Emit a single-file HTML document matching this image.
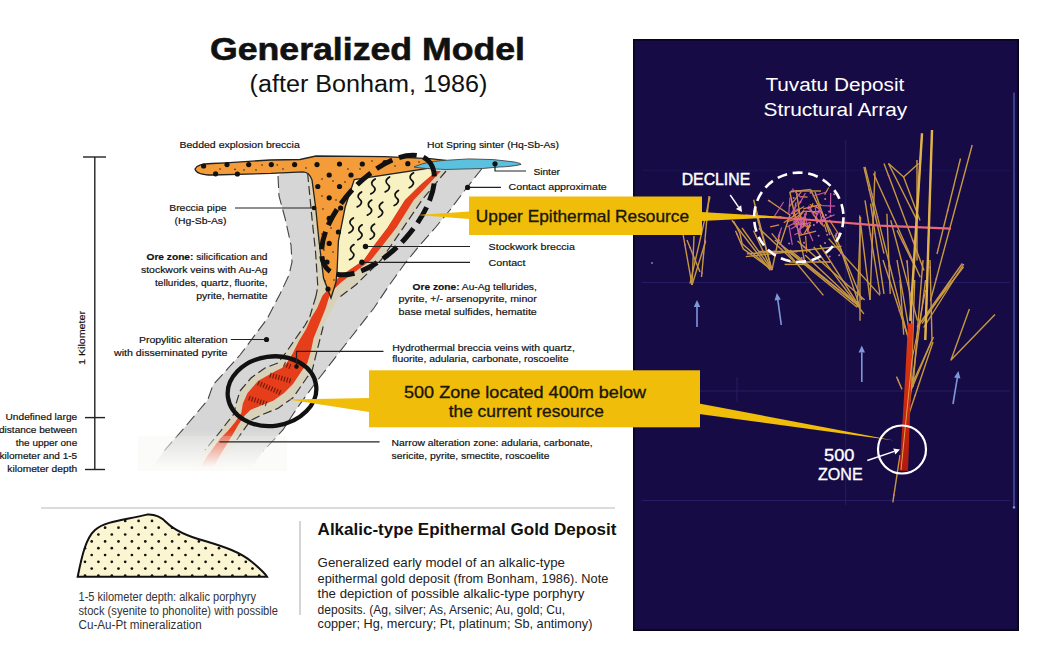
<!DOCTYPE html>
<html><head><meta charset="utf-8">
<style>
html,body{margin:0;padding:0;background:#fff;width:1064px;height:658px;overflow:hidden}
svg{display:block}
text{font-family:"Liberation Sans",sans-serif}
</style></head><body>
<svg width="1064" height="658" viewBox="0 0 1064 658">
<defs>
<linearGradient id="fade" x1="0" y1="0" x2="0" y2="1">
<stop offset="0" stop-color="#fff" stop-opacity="0"/>
<stop offset="0.85" stop-color="#fff" stop-opacity="1"/>
<stop offset="1" stop-color="#fff" stop-opacity="1"/>
</linearGradient>
</defs>
<rect x="0" y="0" width="1064" height="658" fill="#fff"/>

<text x="210" y="59.6" font-size="32" font-weight="bold" fill="#111" stroke="#111" stroke-width="0.6" textLength="315" lengthAdjust="spacingAndGlyphs">Generalized Model</text>
<text x="249.5" y="91.5" font-size="23.5" fill="#111" textLength="238" lengthAdjust="spacingAndGlyphs">(after Bonham, 1986)</text>
<path d="M150,470 L164,451 L185,427 L207.7,400 L213,385 L240,355 L267,319 L280,294 L289,275 L292,262 L291,245 L285,218 L279,196 L278,176 L283,171.8 L443,170 L482,168.5 L465,190 L450,210 L435,228 L420,245 L404.5,264 L388.7,286 L374,308 L345,345 L313.7,385.3 L296.4,409 L282.9,430 L263.3,451 L250,470 Z" fill="#d6d6d6"/>
<path d="M307.6,173 L312,218.4 L315.6,252.5 L317.8,286.7 L316,296 L309.8,316.7 L305,325.3 L296,338 L285.5,353.2 L278,363 L265,368 L251,378 L240,391 L236,403.8 L234,414 L226,424 L220,432 L205,450 L193,470 L218,470 L224,460 L236.7,440 L242.8,431.2 L250.4,420.5 L262.6,414.5 L277.8,408.4 L293,397.8 L306.6,378 L312.3,370 L317,350.8 L323.2,326.5 L337.8,298.5 L356,284.7 L381,260 L391,245.6 L403.5,227.4 L422,200 L446,171 Z" fill="#d9d2bb"/>
<path d="M433,171 L420,185 L404.7,200 L387.4,227.4 L373.7,245.6 L363.6,260 L339,277 L322.4,295.8 L317.1,308.2 L311,318 L306.2,328.9 L298.9,341 L292.8,353.2 L286.7,363 L281.9,368 L274.7,371.5 L258,381 L247.4,393.2 L242.8,403.8 L241.3,413 L235.2,422 L227.6,431.2 L220,438.8 L208,455 L198,470 L212,470 L222,452 L232,435.7 L238.2,425 L244.3,416 L250.4,410 L261,405.4 L273.2,400.8 L283.8,393.2 L293,384 L302,370.4 L307.4,363 L311,350.8 L313.5,338.6 L320.8,320.4 L325.7,308.2 L330.5,292.4 L341.5,282 L371,260 L381,247.4 L396.5,227.4 L413.8,200 L427,186 L441,171 Z" fill="#e63d1b"/>
<path d="M354.3,179.6 L434,169 L436,171.5 L420,185 L404.7,200 L387.4,227.4 L373.7,245.6 L363.6,260 L340,276 L337.2,268.5 L338.4,241 L345.2,207 Z" fill="#f8f2c2"/>
<path d="M195,169 C197,165 202,164 212,163.5 L226,162.8 L270,160 L300,159.5 L316,156 L384,156.6 L430,158.6 L445.4,160.3 C447,162 446,164 440,166 L429.5,168.2 L354.3,179.6 L345.2,207 L338.4,241 L337.2,268.5 L336,282 L331,298 L323.5,278 L319,241 L315.6,207 L312,180 C310,174 307,172 303,171.8 L271,173.4 L212,175 C203,175 196,173 195,169 Z" fill="#f59c3a" stroke="#222" stroke-width="1.3"/>
<path d="M414,167 C425,162 436,161 445.7,160.3 L469,158.9 L493.6,159.6 L512,161.7 C518,162.5 521,163.5 521,164.4 C515,166 505,167 499,167 L482.6,168.5 L445.7,169.5 C432,169 422,168.5 414,167 Z" fill="#5cc1df" stroke="#333" stroke-width="0.8"/>
<circle cx="227" cy="164.6" r="2.6" fill="#111"/>
<circle cx="248.7" cy="164.6" r="2.6" fill="#111"/>
<circle cx="271.3" cy="164.6" r="2.6" fill="#111"/>
<circle cx="294.6" cy="164.6" r="2.6" fill="#111"/>
<circle cx="317" cy="164.6" r="2.6" fill="#111"/>
<circle cx="339.5" cy="164" r="2.6" fill="#111"/>
<circle cx="362.3" cy="164" r="2.6" fill="#111"/>
<circle cx="407.8" cy="163.7" r="2.6" fill="#111"/>
<circle cx="329.2" cy="175" r="2.6" fill="#111"/>
<circle cx="351" cy="175" r="2.6" fill="#111"/>
<circle cx="317.8" cy="186.5" r="2.6" fill="#111"/>
<circle cx="339.5" cy="186.5" r="2.6" fill="#111"/>
<circle cx="329.2" cy="197.8" r="2.6" fill="#111"/>
<circle cx="340.6" cy="208" r="2.6" fill="#111"/>
<circle cx="329.2" cy="218.4" r="2.6" fill="#111"/>
<circle cx="338.4" cy="232" r="2.6" fill="#111"/>
<circle cx="329.2" cy="243.4" r="2.6" fill="#111"/>
<circle cx="328" cy="289" r="2.6" fill="#111"/>
<circle cx="203.6" cy="166" r="2.6" fill="#111"/>
<circle cx="215.6" cy="173.8" r="2.6" fill="#111"/>
<circle cx="237.4" cy="174" r="2.6" fill="#111"/>
<circle cx="385" cy="162.5" r="2.6" fill="#111"/>
<circle cx="327" cy="262" r="2.6" fill="#111"/>
<circle cx="235" cy="169.4" r="0.8" fill="#222"/>
<circle cx="262" cy="165" r="0.8" fill="#222"/>
<circle cx="277.3" cy="165" r="0.8" fill="#222"/>
<circle cx="306" cy="168" r="0.8" fill="#222"/>
<circle cx="283" cy="169" r="0.8" fill="#222"/>
<circle cx="256" cy="170" r="0.8" fill="#222"/>
<circle cx="348" cy="169" r="0.8" fill="#222"/>
<circle cx="372" cy="161" r="0.8" fill="#222"/>
<circle cx="395" cy="166" r="0.8" fill="#222"/>
<circle cx="419" cy="162" r="0.8" fill="#222"/>
<circle cx="322" cy="179" r="0.8" fill="#222"/>
<circle cx="333" cy="181" r="0.8" fill="#222"/>
<circle cx="345" cy="182" r="0.8" fill="#222"/>
<circle cx="322" cy="196" r="0.8" fill="#222"/>
<circle cx="336" cy="200" r="0.8" fill="#222"/>
<circle cx="323" cy="209" r="0.8" fill="#222"/>
<circle cx="331" cy="228" r="0.8" fill="#222"/>
<circle cx="322" cy="234" r="0.8" fill="#222"/>
<circle cx="333" cy="252" r="0.8" fill="#222"/>
<circle cx="324" cy="250" r="0.8" fill="#222"/>
<circle cx="330" cy="270" r="0.8" fill="#222"/>
<circle cx="325" cy="281" r="0.8" fill="#222"/>
<circle cx="334" cy="280" r="0.8" fill="#222"/>
<circle cx="220" cy="169" r="0.8" fill="#222"/>
<circle cx="244" cy="170" r="0.8" fill="#222"/>
<circle cx="360" cy="169" r="0.8" fill="#222"/>
<circle cx="430" cy="163" r="0.8" fill="#222"/>
<path d="M375.2,178.9 C370.5,181.4 371,184.9 373.8,186.9 C376.5,188.9 374.5,192.4 370.8,193.9" fill="none" stroke="#111" stroke-width="1.7" stroke-linecap="round"/>
<path d="M389.59999999999997,176.9 C384.9,179.4 385.4,182.9 388.2,184.9 C390.9,186.9 388.9,190.4 385.2,191.9" fill="none" stroke="#111" stroke-width="1.7" stroke-linecap="round"/>
<path d="M413.59999999999997,172.8 C408.9,175.3 409.4,178.8 412.2,180.8 C414.9,182.8 412.9,186.3 409.2,187.8" fill="none" stroke="#111" stroke-width="1.7" stroke-linecap="round"/>
<path d="M361.59999999999997,191.9 C356.9,194.4 357.4,197.9 360.2,199.9 C362.9,201.9 360.9,205.4 357.2,206.9" fill="none" stroke="#111" stroke-width="1.7" stroke-linecap="round"/>
<path d="M371.8,200.1 C367.1,202.6 367.6,206.1 370.40000000000003,208.1 C373.1,210.1 371.1,213.6 367.40000000000003,215.1" fill="none" stroke="#111" stroke-width="1.7" stroke-linecap="round"/>
<path d="M382.8,202.2 C378.1,204.7 378.6,208.2 381.40000000000003,210.2 C384.1,212.2 382.1,215.7 378.40000000000003,217.2" fill="none" stroke="#111" stroke-width="1.7" stroke-linecap="round"/>
<path d="M398.5,190.5 C393.8,193 394.3,196.5 397.1,198.5 C399.8,200.5 397.8,204 394.1,205.5" fill="none" stroke="#111" stroke-width="1.7" stroke-linecap="round"/>
<path d="M353.4,217.9 C348.7,220.4 349.2,223.9 352.0,225.9 C354.7,227.9 352.7,231.4 349.0,232.9" fill="none" stroke="#111" stroke-width="1.7" stroke-linecap="round"/>
<path d="M362.2,224.8 C357.5,227.3 358,230.8 360.8,232.8 C363.5,234.8 361.5,238.3 357.8,239.8" fill="none" stroke="#111" stroke-width="1.7" stroke-linecap="round"/>
<path d="M374.59999999999997,224.1 C369.9,226.6 370.4,230.1 373.2,232.1 C375.9,234.1 373.9,237.6 370.2,239.1" fill="none" stroke="#111" stroke-width="1.7" stroke-linecap="round"/>
<path d="M354.0,244.6 C349.3,247.1 349.8,250.6 352.6,252.6 C355.3,254.6 353.3,258.1 349.6,259.6" fill="none" stroke="#111" stroke-width="1.7" stroke-linecap="round"/>
<polyline points="278,176 279,196 285,218 291,245 292,262 289,275 280,294 267,319 240,355 213,385 207.7,400 185,427 164,451" fill="none" stroke="#444" stroke-width="1.1" stroke-dasharray="12 5"/>
<polyline points="482,168.5 465,190 450,210 435,228 420,245 404.5,264 388.7,286 374,308 345,345 313.7,385.3 296.4,409 282.9,430 263.3,451" fill="none" stroke="#444" stroke-width="1.1" stroke-dasharray="12 5"/>
<polyline points="307.6,173 312,218.4 315.6,252.5 317.8,286.7 316,296" fill="none" stroke="#333" stroke-width="1.2" stroke-dasharray="9 4"/>
<polyline points="316,296 309.8,316.7 305,325.3 296,338 285.5,353.2 278,363 265,368 251,378 240,391 236,403.8 234,414 226,424 220,432 205,450" fill="none" stroke="#333" stroke-width="1.2" stroke-dasharray="9 4"/>
<polyline points="446,171 422,200 403.5,227.4 391,245.6 381,260 356,284.7 337.8,298.5" fill="none" stroke="#333" stroke-width="1.2" stroke-dasharray="9 4"/>
<polyline points="323.2,326.5 317,350.8 312.3,370 306.6,378 293,397.8 277.8,408.4 262.6,414.5 250.4,420.5 242.8,431.2 236.7,440" fill="none" stroke="#333" stroke-width="1.2" stroke-dasharray="9 4"/>
<line x1="270" y1="375" x2="291" y2="381" stroke="#4a1208" stroke-width="5" stroke-dasharray="1.1 1.8" opacity="0.8"/>
<line x1="258" y1="383" x2="281" y2="393" stroke="#4a1208" stroke-width="5" stroke-dasharray="1.1 1.8" opacity="0.8"/>
<line x1="249" y1="398" x2="267" y2="404" stroke="#4a1208" stroke-width="5" stroke-dasharray="1.1 1.8" opacity="0.8"/>
<line x1="284" y1="364" x2="291" y2="367" stroke="#4a1208" stroke-width="5" stroke-dasharray="1.1 1.8" opacity="0.8"/>
<rect x="100" y="430" width="200" height="44" fill="url(#fade)"/>
<rect x="138" y="436" width="149" height="35" fill="#efefec" opacity="0.25"/>
<ellipse cx="378" cy="215" rx="74" ry="36" transform="rotate(-47.7 378 215)" fill="none" stroke="#111" stroke-width="5" stroke-dasharray="18 7"/>
<ellipse cx="272" cy="391.2" rx="44.5" ry="34.7" transform="rotate(-8 272 391.2)" fill="none" stroke="#111" stroke-width="4.3"/>
<g stroke="#222" stroke-width="1.2" fill="none"><polyline points="495,163.8 495,171 526,171"/><line x1="467.6" y1="187.4" x2="501" y2="187.4"/><line x1="235" y1="208" x2="314" y2="208"/><line x1="365.5" y1="246.5" x2="470" y2="246.5"/><line x1="361.9" y1="262.3" x2="470" y2="262.3"/><line x1="230.8" y1="339.5" x2="266.5" y2="339.5"/><polyline points="296.5,366.6 296.5,351.4 383.5,351.4"/><line x1="219.4" y1="441.8" x2="379.6" y2="441.8"/></g>
<circle cx="495" cy="163.8" r="2.6" fill="#111"/>
<circle cx="467.6" cy="187.4" r="2.6" fill="#111"/>
<circle cx="314" cy="208" r="2.3" fill="#111"/>
<circle cx="365.5" cy="246.5" r="2.7" fill="#111"/>
<circle cx="361.9" cy="262.3" r="2.7" fill="#111"/>
<circle cx="266.5" cy="339.5" r="2.6" fill="#111"/>
<circle cx="296.5" cy="366.6" r="2.3" fill="#111"/>
<rect x="633" y="39" width="386" height="592" fill="#170b46"/>
<rect x="633.8" y="39.8" width="384.4" height="590.4" fill="none" stroke="#07041a" stroke-width="1.6"/>
<g stroke="#2c2670" stroke-width="1" opacity="0.7"><line x1="642" y1="282.5" x2="1010" y2="282.5"/><line x1="642" y1="391" x2="1010" y2="391"/><line x1="642" y1="500.5" x2="1010" y2="500.5"/><line x1="845.7" y1="140" x2="845.7" y2="505"/><line x1="737" y1="377" x2="737" y2="402"/></g>
<g stroke="#241e62" stroke-width="1" opacity="0.5"><line x1="642" y1="170.3" x2="1010" y2="170.3"/></g>
<line x1="1014" y1="92.6" x2="1014" y2="507.4" stroke="#4a5cb0" stroke-width="1.3"/>
<circle cx="1014" cy="507.4" r="1.2" fill="#8a9ae0"/>
<circle cx="652" cy="263" r="0.9" fill="#8a8ad0"/>
<g fill="none" stroke="#d0a040" stroke-width="1.4" stroke-linejoin="round" opacity="0.95">
<polyline points="683,234 692,285"/>
<polyline points="694,236 692,285"/>
<polyline points="709,196 701.5,277"/>
<polyline points="705.7,241 692,285"/>
<polyline points="687,240 700,272"/>
<polyline points="731.9,220.3 770.3,270.4"/>
<polyline points="746.9,253.7 810.4,250.4"/>
<polyline points="753.6,199.8 771.7,269.6"/>
<polyline points="789.8,192 810.5,189.4"/>
<polyline points="789.8,192 805.3,264.4"/>
<polyline points="810.5,189.4 841.5,254"/>
<polyline points="771.7,233.4 823.4,295.4"/>
<polyline points="797.5,241 864.7,300"/>
<polyline points="758.8,228.2 797.5,264.4"/>
<polyline points="787,250.4 857.2,307.2"/>
<polyline points="813.8,247 863.9,313.9"/>
<polyline points="745.8,256.6 841.5,246.3"/>
<polyline points="828.6,238.6 880,295.4"/>
<polyline points="863.9,166.8 884,253.7"/>
<polyline points="870.6,203.6 884,293.9"/>
<polyline points="884,163.5 924,270.4"/>
<polyline points="890.7,220.3 917.4,320.6"/>
<polyline points="860.6,217 857.2,307"/>
<polyline points="875,171.4 870,300"/>
<polyline points="859.6,215.3 870,300"/>
<polyline points="753.6,230.8 771.7,269.6"/>
<polyline points="735.5,230.8 743.3,248.9 771.7,269.6"/>
<polyline points="758.8,251.5 797.5,251.5"/>
<polyline points="784.6,264.4 805.3,264.4"/>
<polyline points="733.6,221 740,233.5 742,243.5 770,268.6"/>
<polyline points="710,196.7 690,283.6"/>
<polyline points="775,240 859,306"/>
<polyline points="790,250 859,306"/>
<polyline points="805,255 859,306"/>
<polyline points="820,245 859,306"/>
<polyline points="835,235 862,300"/>
<polyline points="742,228 772,270"/>
<polyline points="755,210 772,270"/>
<polyline points="780,232 772,270"/>
<polyline points="790,262 830,262"/>
<polyline points="791,191 821,191"/>
<polyline points="796,190 802,228"/>
<polyline points="815,192 830,235"/>
<polyline points="768,200 790,215 780,245"/>
<polyline points="932,130 925.3,340"/>
<polyline points="922,133.4 910.3,320.8"/>
<polyline points="917,160 917,260.6"/>
<polyline points="972.2,145 930.4,300.7"/>
<polyline points="960.5,158.5 937,254"/>
<polyline points="865,166.9 907,334"/>
<polyline points="888.5,163.5 903.6,177 918.6,163.5"/>
<polyline points="903.6,177 920,220.4"/>
<polyline points="888.5,163.5 917,220.4"/>
<polyline points="865,200.3 880,294"/>
<polyline points="860,217 860,320.8"/>
<polyline points="963.8,264 923.7,327.5"/>
<polyline points="840,247 860,307.4"/>
<polyline points="873.5,173.5 920.3,277.3"/>
<polyline points="886.9,213.7 890.2,294"/>
<polyline points="897,230.4 913.6,264"/>
<polyline points="925.6,280 907.4,418.5"/>
<polyline points="933,342 907.4,418.5"/>
<polyline points="914.7,280 911,389"/>
<polyline points="951,280 922,323.7"/>
<polyline points="900,280 903.7,334.7"/>
<polyline points="883,260 910,343"/>
<polyline points="897,260 913,353"/>
<polyline points="907,260 912,327"/>
<polyline points="923,260 913,387"/>
<polyline points="930,260 932,340 907,400"/>
<polyline points="963.6,266.7 917,327"/>
<polyline points="933.5,337 905,400"/>
<polyline points="969.4,309 951,360 995,314.6"/>
<polyline points="896.5,376.6 902,389.4"/>
<polyline points="900,455 892.8,502.4"/>
<polyline points="962,264 923,319"/>
</g>
<g stroke-width="1.2" fill="none">
<line x1="807.1" y1="227.8" x2="812.9" y2="241.0" stroke="#c855a8"/>
<line x1="802.9" y1="211.1" x2="820.6" y2="211.9" stroke="#dc8a3c"/>
<line x1="805.5" y1="222.0" x2="792.9" y2="222.2" stroke="#c855a8"/>
<line x1="813.1" y1="203.3" x2="809.6" y2="210.6" stroke="#dc8a3c"/>
<line x1="790.0" y1="197.4" x2="788.8" y2="213.7" stroke="#c855a8"/>
<line x1="803.9" y1="210.5" x2="793.6" y2="220.3" stroke="#dc8a3c"/>
<line x1="805.0" y1="216.6" x2="793.5" y2="221.8" stroke="#c855a8"/>
<line x1="801.2" y1="191.8" x2="789.4" y2="206.6" stroke="#dc8a3c"/>
<line x1="789.0" y1="226.1" x2="792.3" y2="244.9" stroke="#c855a8"/>
<line x1="809.9" y1="210.6" x2="818.2" y2="214.3" stroke="#dc8a3c"/>
<line x1="818.5" y1="211.5" x2="814.6" y2="220.9" stroke="#c855a8"/>
<line x1="794.2" y1="213.5" x2="800.6" y2="226.2" stroke="#dc8a3c"/>
<line x1="783.6" y1="202.0" x2="773.3" y2="218.0" stroke="#c855a8"/>
<line x1="828.8" y1="187.5" x2="824.6" y2="194.6" stroke="#dc8a3c"/>
<line x1="825.9" y1="192.2" x2="812.5" y2="196.3" stroke="#c855a8"/>
<line x1="804.1" y1="206.6" x2="792.0" y2="213.7" stroke="#dc8a3c"/>
<line x1="805.1" y1="217.9" x2="787.2" y2="226.7" stroke="#c855a8"/>
<line x1="824.3" y1="224.4" x2="826.6" y2="232.2" stroke="#dc8a3c"/>
<line x1="800.4" y1="232.1" x2="794.3" y2="234.7" stroke="#c855a8"/>
<line x1="803.3" y1="211.8" x2="796.5" y2="220.0" stroke="#dc8a3c"/>
<line x1="830.7" y1="193.0" x2="830.4" y2="213.0" stroke="#c855a8"/>
<line x1="804.2" y1="218.1" x2="802.3" y2="224.2" stroke="#dc8a3c"/>
<line x1="810.0" y1="224.7" x2="807.2" y2="232.4" stroke="#c855a8"/>
<line x1="829.3" y1="219.8" x2="840.0" y2="236.0" stroke="#dc8a3c"/>
<line x1="815.3" y1="207.5" x2="817.0" y2="220.7" stroke="#c855a8"/>
<line x1="796.0" y1="202.4" x2="793.3" y2="216.8" stroke="#dc8a3c"/>
<line x1="819.3" y1="209.2" x2="822.7" y2="224.9" stroke="#c855a8"/>
<line x1="806.8" y1="223.3" x2="793.5" y2="224.2" stroke="#dc8a3c"/>
<line x1="804.3" y1="213.5" x2="808.0" y2="227.1" stroke="#c855a8"/>
<line x1="822.5" y1="215.9" x2="819.7" y2="222.2" stroke="#dc8a3c"/>
<line x1="796.6" y1="205.2" x2="790.8" y2="214.4" stroke="#c855a8"/>
<line x1="800.8" y1="196.6" x2="807.6" y2="197.1" stroke="#dc8a3c"/>
<line x1="792.2" y1="188.7" x2="800.9" y2="197.5" stroke="#c855a8"/>
<line x1="797.2" y1="208.7" x2="801.5" y2="218.1" stroke="#dc8a3c"/>
<line x1="795.0" y1="224.8" x2="801.6" y2="234.0" stroke="#c855a8"/>
<line x1="806.4" y1="211.5" x2="802.9" y2="227.4" stroke="#dc8a3c"/>
<line x1="802.9" y1="221.3" x2="795.2" y2="226.7" stroke="#c855a8"/>
<line x1="810.9" y1="224.9" x2="806.6" y2="230.9" stroke="#dc8a3c"/>
<line x1="801.3" y1="222.9" x2="790.8" y2="229.0" stroke="#c855a8"/>
<line x1="810.5" y1="208.7" x2="817.9" y2="221.9" stroke="#dc8a3c"/>
<line x1="815.9" y1="206.0" x2="821.7" y2="211.0" stroke="#c855a8"/>
<line x1="798.3" y1="212.7" x2="783.8" y2="222.8" stroke="#dc8a3c"/>
<line x1="809.9" y1="222.1" x2="797.6" y2="230.7" stroke="#c855a8"/>
<line x1="809.8" y1="204.5" x2="819.1" y2="208.5" stroke="#dc8a3c"/>
<line x1="808.6" y1="205.6" x2="814.1" y2="216.1" stroke="#c855a8"/>
<line x1="795.2" y1="219.5" x2="787.3" y2="221.5" stroke="#dc8a3c"/>
<line x1="834.7" y1="214.8" x2="816.3" y2="222.1" stroke="#c855a8"/>
<line x1="779.1" y1="224.8" x2="770.2" y2="226.9" stroke="#dc8a3c"/>
<line x1="805.4" y1="193.1" x2="798.9" y2="204.6" stroke="#c855a8"/>
<line x1="803.3" y1="223.7" x2="808.6" y2="228.3" stroke="#dc8a3c"/>
<line x1="797.6" y1="209.2" x2="792.1" y2="212.9" stroke="#c855a8"/>
<line x1="821.2" y1="204.4" x2="803.2" y2="208.8" stroke="#dc8a3c"/>
<line x1="818.7" y1="205.5" x2="835.1" y2="206.2" stroke="#c855a8"/>
<line x1="810.8" y1="222.2" x2="804.2" y2="233.8" stroke="#dc8a3c"/>
<line x1="781.7" y1="227.4" x2="778.0" y2="237.5" stroke="#c855a8"/>
<line x1="805.6" y1="235.9" x2="806.8" y2="252.8" stroke="#dc8a3c"/>
<line x1="801.2" y1="219.9" x2="799.4" y2="237.2" stroke="#c855a8"/>
<line x1="816.1" y1="231.1" x2="799.3" y2="235.4" stroke="#dc8a3c"/>
<line x1="806.7" y1="212.8" x2="799.6" y2="229.4" stroke="#c855a8"/>
<line x1="815.1" y1="216.7" x2="824.0" y2="226.7" stroke="#dc8a3c"/>
</g>
<g fill="#d070b0">
<circle cx="841.2" cy="291.5" r="0.9"/>
<circle cx="907.1" cy="261.9" r="0.9"/>
<circle cx="909.9" cy="256.5" r="0.9"/>
<circle cx="829.5" cy="282.8" r="0.9"/>
<circle cx="888.5" cy="175.6" r="0.9"/>
<circle cx="909.8" cy="400.3" r="0.9"/>
<circle cx="947.7" cy="210.4" r="0.9"/>
<circle cx="897.9" cy="379.8" r="0.9"/>
<circle cx="774.6" cy="251.5" r="0.9"/>
<circle cx="870.4" cy="289.2" r="0.9"/>
<circle cx="871.7" cy="193.6" r="0.9"/>
<circle cx="792.0" cy="202.0" r="0.9"/>
<circle cx="842.5" cy="254.7" r="0.9"/>
<circle cx="691.8" cy="283.6" r="0.9"/>
<circle cx="684.9" cy="244.7" r="0.9"/>
<circle cx="796.0" cy="251.5" r="0.9"/>
<circle cx="914.0" cy="307.8" r="0.9"/>
<circle cx="760.3" cy="228.8" r="0.9"/>
<circle cx="763.4" cy="251.7" r="0.9"/>
<circle cx="736.9" cy="234.1" r="0.9"/>
<circle cx="771.1" cy="268.3" r="0.9"/>
<circle cx="877.5" cy="216.8" r="0.9"/>
<circle cx="917.0" cy="201.7" r="0.9"/>
<circle cx="869.2" cy="189.7" r="0.9"/>
<circle cx="819.5" cy="205.0" r="0.9"/>
<circle cx="961.9" cy="264.2" r="0.9"/>
<circle cx="769.5" cy="201.0" r="0.9"/>
<circle cx="912.4" cy="286.8" r="0.9"/>
<circle cx="915.2" cy="395.3" r="0.9"/>
<circle cx="872.6" cy="233.3" r="0.9"/>
<circle cx="860.4" cy="222.1" r="0.9"/>
<circle cx="701.9" cy="272.9" r="0.9"/>
<circle cx="912.1" cy="291.7" r="0.9"/>
<circle cx="704.9" cy="240.5" r="0.9"/>
<circle cx="870.5" cy="234.6" r="0.9"/>
<circle cx="893.9" cy="494.9" r="0.9"/>
<circle cx="875.7" cy="178.4" r="0.9"/>
<circle cx="871.9" cy="251.6" r="0.9"/>
<circle cx="755.8" cy="235.4" r="0.9"/>
<circle cx="853.1" cy="301.4" r="0.9"/>
<circle cx="902.7" cy="242.0" r="0.9"/>
<circle cx="911.6" cy="300.7" r="0.9"/>
<circle cx="843.5" cy="293.4" r="0.9"/>
<circle cx="781.6" cy="249.5" r="0.9"/>
<circle cx="936.3" cy="278.9" r="0.9"/>
<circle cx="692.6" cy="253.9" r="0.9"/>
<circle cx="782.5" cy="246.3" r="0.9"/>
<circle cx="899.5" cy="310.7" r="0.9"/>
<circle cx="870.7" cy="196.3" r="0.9"/>
<circle cx="930.2" cy="267.4" r="0.9"/>
<circle cx="800.2" cy="191.0" r="0.9"/>
<circle cx="829.9" cy="229.9" r="0.9"/>
<circle cx="829.9" cy="262.0" r="0.9"/>
<circle cx="912.8" cy="240.5" r="0.9"/>
<circle cx="841.1" cy="253.1" r="0.9"/>
<circle cx="913.8" cy="377.3" r="0.9"/>
<circle cx="690.1" cy="247.6" r="0.9"/>
<circle cx="926.5" cy="303.5" r="0.9"/>
<circle cx="889.0" cy="266.0" r="0.9"/>
<circle cx="865.0" cy="171.6" r="0.9"/>
<circle cx="834.1" cy="194.2" r="1"/>
<circle cx="804.5" cy="247.3" r="1"/>
<circle cx="779.1" cy="240.3" r="1"/>
<circle cx="836.5" cy="233.6" r="1"/>
<circle cx="825.2" cy="199.0" r="1"/>
<circle cx="800.4" cy="201.9" r="1"/>
<circle cx="829.1" cy="211.5" r="1"/>
<circle cx="801.7" cy="258.0" r="1"/>
<circle cx="829.7" cy="256.4" r="1"/>
<circle cx="801.7" cy="224.2" r="1"/>
<circle cx="821.1" cy="223.6" r="1"/>
<circle cx="790.4" cy="218.7" r="1"/>
<circle cx="780.3" cy="216.9" r="1"/>
<circle cx="839.2" cy="255.3" r="1"/>
<circle cx="813.9" cy="225.0" r="1"/>
<circle cx="793.7" cy="197.9" r="1"/>
<circle cx="789.1" cy="243.6" r="1"/>
<circle cx="830.7" cy="215.8" r="1"/>
<circle cx="825.0" cy="243.1" r="1"/>
<circle cx="818.6" cy="235.8" r="1"/>
<circle cx="823.2" cy="216.0" r="1"/>
<circle cx="819.3" cy="210.5" r="1"/>
<circle cx="804.0" cy="242.8" r="1"/>
<circle cx="818.4" cy="211.4" r="1"/>
<circle cx="836.2" cy="234.9" r="1"/>
<circle cx="810.6" cy="192.8" r="1"/>
<circle cx="808.3" cy="208.5" r="1"/>
<circle cx="817.0" cy="222.6" r="1"/>
<circle cx="827.2" cy="234.7" r="1"/>
<circle cx="825.8" cy="215.0" r="1"/>
</g>
<polyline points="745,215.5 800,219 880,225.6 951,228.7" fill="none" stroke="#e86a78" stroke-width="2.2"/>
<g fill="none" stroke="#e2b24a" stroke-width="2.4"><line x1="932" y1="130" x2="925.3" y2="340"/><line x1="922" y1="133.4" x2="910.3" y2="320.8"/></g>
<linearGradient id="rs" x1="0" y1="0" x2="0" y2="1"><stop offset="0" stop-color="#e43a14"/><stop offset="1" stop-color="#b01a0e"/></linearGradient><polygon points="908,323.5 913,323.5 912,360 908,470.7 899.5,470.7 905,380" fill="url(#rs)"/>
<polyline points="925.6,290 912,360 905,430 901,470" fill="none" stroke="#e0a040" stroke-width="1"/>
<polygon points="469,211.6 469,219.1 417,215" fill="#f0be0a"/>
<polygon points="701,212 701,221 786,217" fill="#f0be0a"/>
<rect x="469" y="196.5" width="233" height="38.5" fill="#f0be0a"/>
<text x="475.8" y="221.8" font-size="17" fill="#1a1608" stroke="#1a1608" stroke-width="0.35" textLength="213.2" lengthAdjust="spacingAndGlyphs">Upper Epithermal Resource</text>
<polygon points="369,398 369,412 288,399.5" fill="#f0be0a"/>
<polygon points="699,403.5 699,414 894,440.5" fill="#f0be0a"/>
<rect x="369" y="370.3" width="331" height="57" fill="#f0be0a"/>
<text x="404" y="398" font-size="17" fill="#1a1608" stroke="#1a1608" stroke-width="0.35" textLength="242" lengthAdjust="spacingAndGlyphs">500 Zone located 400m below</text>
<text x="448.7" y="416.7" font-size="17" fill="#1a1608" stroke="#1a1608" stroke-width="0.35" textLength="155.1" lengthAdjust="spacingAndGlyphs">the current resource</text>
<circle cx="798.8" cy="217.3" r="44.7" fill="none" stroke="#fff" stroke-width="2.6" stroke-dasharray="10 5.7"/>
<circle cx="902" cy="449.5" r="24" fill="none" stroke="#fff" stroke-width="2.2"/>
<line x1="730.2" y1="195" x2="738.6" y2="207.1" stroke="#fff" stroke-width="1.4"/><polygon points="742,212 735.9,208.9 741.2,205.2" fill="#fff"/>
<line x1="867.3" y1="460.5" x2="894.3" y2="451.4" stroke="#fff" stroke-width="1.4"/><polygon points="900,449.5 895.3,454.4 893.3,448.4" fill="#fff"/>
<line x1="697" y1="327" x2="697.0" y2="307.0" stroke="#7d98d8" stroke-width="1.6"/><polygon points="697,300 700.2,307.0 693.8,307.0" fill="#7d98d8"/>
<line x1="781.3" y1="325" x2="777.8" y2="299.9" stroke="#7d98d8" stroke-width="1.6"/><polygon points="776.8,293 780.9,299.5 774.6,300.4" fill="#7d98d8"/>
<line x1="861.8" y1="382" x2="861.8" y2="352.6" stroke="#7d98d8" stroke-width="1.6"/><polygon points="861.8,345.6 865.0,352.6 858.6,352.6" fill="#7d98d8"/>
<line x1="953" y1="404" x2="957.3" y2="377.9" stroke="#7d98d8" stroke-width="1.6"/><polygon points="958.4,371 960.4,378.4 954.1,377.4" fill="#7d98d8"/>
<text x="765.4" y="91" font-size="18" textLength="139" lengthAdjust="spacingAndGlyphs" fill="#fff">Tuvatu Deposit</text>
<text x="763.5" y="116.4" font-size="18" textLength="143.8" lengthAdjust="spacingAndGlyphs" fill="#fff">Structural Array</text>
<text x="681.7" y="185.2" font-size="16" textLength="68.5" lengthAdjust="spacingAndGlyphs" fill="#fff" stroke="#fff" stroke-width="0.45">DECLINE</text>
<text x="824" y="461" font-size="16" textLength="30.5" lengthAdjust="spacingAndGlyphs" fill="#fff" stroke="#fff" stroke-width="0.3">500</text>
<text x="818" y="480" font-size="16" textLength="44.7" lengthAdjust="spacingAndGlyphs" fill="#fff" stroke="#fff" stroke-width="0.3">ZONE</text>
<g fill="#111" stroke="#111" stroke-width="0.18">
<text x="179.5" y="147.7" font-size="9.5" textLength="120.3" lengthAdjust="spacingAndGlyphs" >Bedded explosion breccia</text>
<text x="427" y="148" font-size="9.5" textLength="132" lengthAdjust="spacingAndGlyphs" >Hot Spring sinter (Hq-Sb-As)</text>
<text x="533.4" y="175" font-size="9.5" textLength="26.6" lengthAdjust="spacingAndGlyphs" >Sinter</text>
<text x="508.6" y="189.6" font-size="9.5" textLength="98.2" lengthAdjust="spacingAndGlyphs" >Contact approximate</text>
<text x="169.2" y="211.2" font-size="9.5" textLength="57.3" lengthAdjust="spacingAndGlyphs" >Breccia pipe</text>
<text x="174.6" y="224.2" font-size="9.5" textLength="51.9" lengthAdjust="spacingAndGlyphs" >(Hg-Sb-As)</text>
<text x="146.5" y="259.9" font-size="9.5" textLength="121" lengthAdjust="spacingAndGlyphs" ><tspan font-weight="bold">Ore zone:</tspan> silicification and</text>
<text x="141" y="272.8" font-size="9.5" textLength="126.5" lengthAdjust="spacingAndGlyphs" >stockwork veins with Au-Ag</text>
<text x="155" y="285.8" font-size="9.5" textLength="112.5" lengthAdjust="spacingAndGlyphs" >tellurides, quartz, fluorite,</text>
<text x="196.2" y="298.8" font-size="9.5" textLength="71.3" lengthAdjust="spacingAndGlyphs" >pyrite, hematite</text>
<text x="488.6" y="249.8" font-size="9.5" textLength="86.3" lengthAdjust="spacingAndGlyphs" >Stockwork breccia</text>
<text x="488.6" y="265.5" font-size="9.5" textLength="36.8" lengthAdjust="spacingAndGlyphs" >Contact</text>
<text x="412.5" y="289.6" font-size="9.5" textLength="124.3" lengthAdjust="spacingAndGlyphs" ><tspan font-weight="bold">Ore zone:</tspan> Au-Ag tellurides,</text>
<text x="398.5" y="302.3" font-size="9.5" textLength="138.3" lengthAdjust="spacingAndGlyphs" >pyrite, +/- arsenopyrite, minor</text>
<text x="398.5" y="315" font-size="9.5" textLength="138.3" lengthAdjust="spacingAndGlyphs" >base metal sulfides, hematite</text>
<text x="138.9" y="342.7" font-size="9.5" textLength="88.6" lengthAdjust="spacingAndGlyphs" >Propylitic alteration</text>
<text x="114" y="355.7" font-size="9.5" textLength="113.5" lengthAdjust="spacingAndGlyphs" >with disseminated pyrite</text>
<text x="392.2" y="350.5" font-size="9.5" textLength="182.7" lengthAdjust="spacingAndGlyphs" >Hydrothermal breccia veins with quartz,</text>
<text x="392.2" y="362" font-size="9.5" textLength="176.3" lengthAdjust="spacingAndGlyphs" >fluorite, adularia, carbonate, roscoelite</text>
<text x="391.6" y="446.2" font-size="9.5" textLength="201.1" lengthAdjust="spacingAndGlyphs" >Narrow alteration zone: adularia, carbonate,</text>
<text x="391.6" y="459.2" font-size="9.5" textLength="157.8" lengthAdjust="spacingAndGlyphs" >sericite, pyrite, smectite, roscoelite</text>
<text x="5.5" y="420" font-size="9.5" textLength="71.7" lengthAdjust="spacingAndGlyphs" >Undefined large</text>
<text x="-1" y="432.8" font-size="9.5" textLength="78.2" lengthAdjust="spacingAndGlyphs" >distance between</text>
<text x="15.8" y="445.6" font-size="9.5" textLength="61.4" lengthAdjust="spacingAndGlyphs" >the upper one</text>
<text x="-0.5" y="459" font-size="9.5" textLength="77.7" lengthAdjust="spacingAndGlyphs" >kilometer and 1-5</text>
<text x="7.3" y="471.7" font-size="9.5" textLength="69.9" lengthAdjust="spacingAndGlyphs" >kilometer depth</text>
<text x="0" y="0" font-size="9.5" transform="translate(85,365) rotate(-90)" textLength="54" lengthAdjust="spacingAndGlyphs">1 Kilometer</text>
</g>
<g stroke="#222" stroke-width="1.4"><line x1="94.8" y1="157" x2="94.8" y2="469.5"/><line x1="83" y1="157" x2="106" y2="157"/><line x1="85" y1="417.6" x2="105" y2="417.6"/><line x1="85" y1="469.5" x2="105" y2="469.5"/></g>
<line x1="41" y1="508" x2="615" y2="508" stroke="#b8b8b8" stroke-width="1"/>
<line x1="300" y1="521" x2="300" y2="615" stroke="#aaa" stroke-width="1"/>
<clipPath id="porclip"><path d="M77.7,576.8 C82,555 86,538 95,530 C105,521 125,520 147,514.6 C155,514 160,516 166,522 C176,532 190,537 205,541 C225,547 240,552 252,562 C259,568 264,572 267,576.8 Z"/></clipPath>
<path d="M77.7,576.8 C82,555 86,538 95,530 C105,521 125,520 147,514.6 C155,514 160,516 166,522 C176,532 190,537 205,541 C225,547 240,552 252,562 C259,568 264,572 267,576.8 Z" fill="#fbf5d2"/>
<g clip-path="url(#porclip)" fill="#111">
<circle cx="85.0" cy="520.9" r="1.35"/>
<circle cx="98.4" cy="520.9" r="1.35"/>
<circle cx="111.8" cy="520.9" r="1.35"/>
<circle cx="125.2" cy="520.9" r="1.35"/>
<circle cx="138.6" cy="520.9" r="1.35"/>
<circle cx="152.0" cy="520.9" r="1.35"/>
<circle cx="165.4" cy="520.9" r="1.35"/>
<circle cx="178.8" cy="520.9" r="1.35"/>
<circle cx="192.2" cy="520.9" r="1.35"/>
<circle cx="205.6" cy="520.9" r="1.35"/>
<circle cx="219.0" cy="520.9" r="1.35"/>
<circle cx="232.4" cy="520.9" r="1.35"/>
<circle cx="245.8" cy="520.9" r="1.35"/>
<circle cx="259.2" cy="520.9" r="1.35"/>
<circle cx="91.7" cy="527.7" r="1.35"/>
<circle cx="105.1" cy="527.7" r="1.35"/>
<circle cx="118.5" cy="527.7" r="1.35"/>
<circle cx="131.9" cy="527.7" r="1.35"/>
<circle cx="145.3" cy="527.7" r="1.35"/>
<circle cx="158.7" cy="527.7" r="1.35"/>
<circle cx="172.1" cy="527.7" r="1.35"/>
<circle cx="185.5" cy="527.7" r="1.35"/>
<circle cx="198.9" cy="527.7" r="1.35"/>
<circle cx="212.3" cy="527.7" r="1.35"/>
<circle cx="225.7" cy="527.7" r="1.35"/>
<circle cx="239.1" cy="527.7" r="1.35"/>
<circle cx="252.5" cy="527.7" r="1.35"/>
<circle cx="265.9" cy="527.7" r="1.35"/>
<circle cx="85.0" cy="534.5" r="1.35"/>
<circle cx="98.4" cy="534.5" r="1.35"/>
<circle cx="111.8" cy="534.5" r="1.35"/>
<circle cx="125.2" cy="534.5" r="1.35"/>
<circle cx="138.6" cy="534.5" r="1.35"/>
<circle cx="152.0" cy="534.5" r="1.35"/>
<circle cx="165.4" cy="534.5" r="1.35"/>
<circle cx="178.8" cy="534.5" r="1.35"/>
<circle cx="192.2" cy="534.5" r="1.35"/>
<circle cx="205.6" cy="534.5" r="1.35"/>
<circle cx="219.0" cy="534.5" r="1.35"/>
<circle cx="232.4" cy="534.5" r="1.35"/>
<circle cx="245.8" cy="534.5" r="1.35"/>
<circle cx="259.2" cy="534.5" r="1.35"/>
<circle cx="91.7" cy="541.4" r="1.35"/>
<circle cx="105.1" cy="541.4" r="1.35"/>
<circle cx="118.5" cy="541.4" r="1.35"/>
<circle cx="131.9" cy="541.4" r="1.35"/>
<circle cx="145.3" cy="541.4" r="1.35"/>
<circle cx="158.7" cy="541.4" r="1.35"/>
<circle cx="172.1" cy="541.4" r="1.35"/>
<circle cx="185.5" cy="541.4" r="1.35"/>
<circle cx="198.9" cy="541.4" r="1.35"/>
<circle cx="212.3" cy="541.4" r="1.35"/>
<circle cx="225.7" cy="541.4" r="1.35"/>
<circle cx="239.1" cy="541.4" r="1.35"/>
<circle cx="252.5" cy="541.4" r="1.35"/>
<circle cx="265.9" cy="541.4" r="1.35"/>
<circle cx="85.0" cy="548.2" r="1.35"/>
<circle cx="98.4" cy="548.2" r="1.35"/>
<circle cx="111.8" cy="548.2" r="1.35"/>
<circle cx="125.2" cy="548.2" r="1.35"/>
<circle cx="138.6" cy="548.2" r="1.35"/>
<circle cx="152.0" cy="548.2" r="1.35"/>
<circle cx="165.4" cy="548.2" r="1.35"/>
<circle cx="178.8" cy="548.2" r="1.35"/>
<circle cx="192.2" cy="548.2" r="1.35"/>
<circle cx="205.6" cy="548.2" r="1.35"/>
<circle cx="219.0" cy="548.2" r="1.35"/>
<circle cx="232.4" cy="548.2" r="1.35"/>
<circle cx="245.8" cy="548.2" r="1.35"/>
<circle cx="259.2" cy="548.2" r="1.35"/>
<circle cx="91.7" cy="555.0" r="1.35"/>
<circle cx="105.1" cy="555.0" r="1.35"/>
<circle cx="118.5" cy="555.0" r="1.35"/>
<circle cx="131.9" cy="555.0" r="1.35"/>
<circle cx="145.3" cy="555.0" r="1.35"/>
<circle cx="158.7" cy="555.0" r="1.35"/>
<circle cx="172.1" cy="555.0" r="1.35"/>
<circle cx="185.5" cy="555.0" r="1.35"/>
<circle cx="198.9" cy="555.0" r="1.35"/>
<circle cx="212.3" cy="555.0" r="1.35"/>
<circle cx="225.7" cy="555.0" r="1.35"/>
<circle cx="239.1" cy="555.0" r="1.35"/>
<circle cx="252.5" cy="555.0" r="1.35"/>
<circle cx="265.9" cy="555.0" r="1.35"/>
<circle cx="85.0" cy="561.8" r="1.35"/>
<circle cx="98.4" cy="561.8" r="1.35"/>
<circle cx="111.8" cy="561.8" r="1.35"/>
<circle cx="125.2" cy="561.8" r="1.35"/>
<circle cx="138.6" cy="561.8" r="1.35"/>
<circle cx="152.0" cy="561.8" r="1.35"/>
<circle cx="165.4" cy="561.8" r="1.35"/>
<circle cx="178.8" cy="561.8" r="1.35"/>
<circle cx="192.2" cy="561.8" r="1.35"/>
<circle cx="205.6" cy="561.8" r="1.35"/>
<circle cx="219.0" cy="561.8" r="1.35"/>
<circle cx="232.4" cy="561.8" r="1.35"/>
<circle cx="245.8" cy="561.8" r="1.35"/>
<circle cx="259.2" cy="561.8" r="1.35"/>
<circle cx="91.7" cy="568.6" r="1.35"/>
<circle cx="105.1" cy="568.6" r="1.35"/>
<circle cx="118.5" cy="568.6" r="1.35"/>
<circle cx="131.9" cy="568.6" r="1.35"/>
<circle cx="145.3" cy="568.6" r="1.35"/>
<circle cx="158.7" cy="568.6" r="1.35"/>
<circle cx="172.1" cy="568.6" r="1.35"/>
<circle cx="185.5" cy="568.6" r="1.35"/>
<circle cx="198.9" cy="568.6" r="1.35"/>
<circle cx="212.3" cy="568.6" r="1.35"/>
<circle cx="225.7" cy="568.6" r="1.35"/>
<circle cx="239.1" cy="568.6" r="1.35"/>
<circle cx="252.5" cy="568.6" r="1.35"/>
<circle cx="265.9" cy="568.6" r="1.35"/>
<circle cx="85.0" cy="575.5" r="1.35"/>
<circle cx="98.4" cy="575.5" r="1.35"/>
<circle cx="111.8" cy="575.5" r="1.35"/>
<circle cx="125.2" cy="575.5" r="1.35"/>
<circle cx="138.6" cy="575.5" r="1.35"/>
<circle cx="152.0" cy="575.5" r="1.35"/>
<circle cx="165.4" cy="575.5" r="1.35"/>
<circle cx="178.8" cy="575.5" r="1.35"/>
<circle cx="192.2" cy="575.5" r="1.35"/>
<circle cx="205.6" cy="575.5" r="1.35"/>
<circle cx="219.0" cy="575.5" r="1.35"/>
<circle cx="232.4" cy="575.5" r="1.35"/>
<circle cx="245.8" cy="575.5" r="1.35"/>
<circle cx="259.2" cy="575.5" r="1.35"/>
</g>
<path d="M77.7,576.8 C82,555 86,538 95,530 C105,521 125,520 147,514.6 C155,514 160,516 166,522 C176,532 190,537 205,541 C225,547 240,552 252,562 C259,568 264,572 267,576.8 Z" fill="none" stroke="#111" stroke-width="2"/>
<g fill="#333">
<text x="78.5" y="601" font-size="12" textLength="177.5" lengthAdjust="spacingAndGlyphs" >1-5 kilometer depth: alkalic porphyry</text>
<text x="78.5" y="615" font-size="12" textLength="199.5" lengthAdjust="spacingAndGlyphs" >stock (syenite to phonolite) with possible</text>
<text x="78.5" y="628.5" font-size="12" textLength="123.2" lengthAdjust="spacingAndGlyphs" >Cu-Au-Pt mineralization</text>
</g>
<text x="317.6" y="535.2" font-size="17" font-weight="bold" fill="#111" textLength="298.8" lengthAdjust="spacingAndGlyphs">Alkalic-type Epithermal Gold Deposit</text>
<g fill="#222">
<text x="317.6" y="567" font-size="13" textLength="247.4" lengthAdjust="spacingAndGlyphs" >Generalized early model of an alkalic-type</text>
<text x="317.6" y="582.5" font-size="13" textLength="290.8" lengthAdjust="spacingAndGlyphs" >epithermal gold deposit (from Bonham, 1986). Note</text>
<text x="317.6" y="597.5" font-size="13" textLength="266.8" lengthAdjust="spacingAndGlyphs" >the depiction of possible alkalic-type porphyry</text>
<text x="317.6" y="613.5" font-size="13" textLength="247.4" lengthAdjust="spacingAndGlyphs" >deposits. (Ag, silver; As, Arsenic; Au, gold; Cu,</text>
<text x="317.6" y="627.8" font-size="13" textLength="274.8" lengthAdjust="spacingAndGlyphs" >copper; Hg, mercury; Pt, platinum; Sb, antimony)</text>
</g>
</svg>
</body></html>
